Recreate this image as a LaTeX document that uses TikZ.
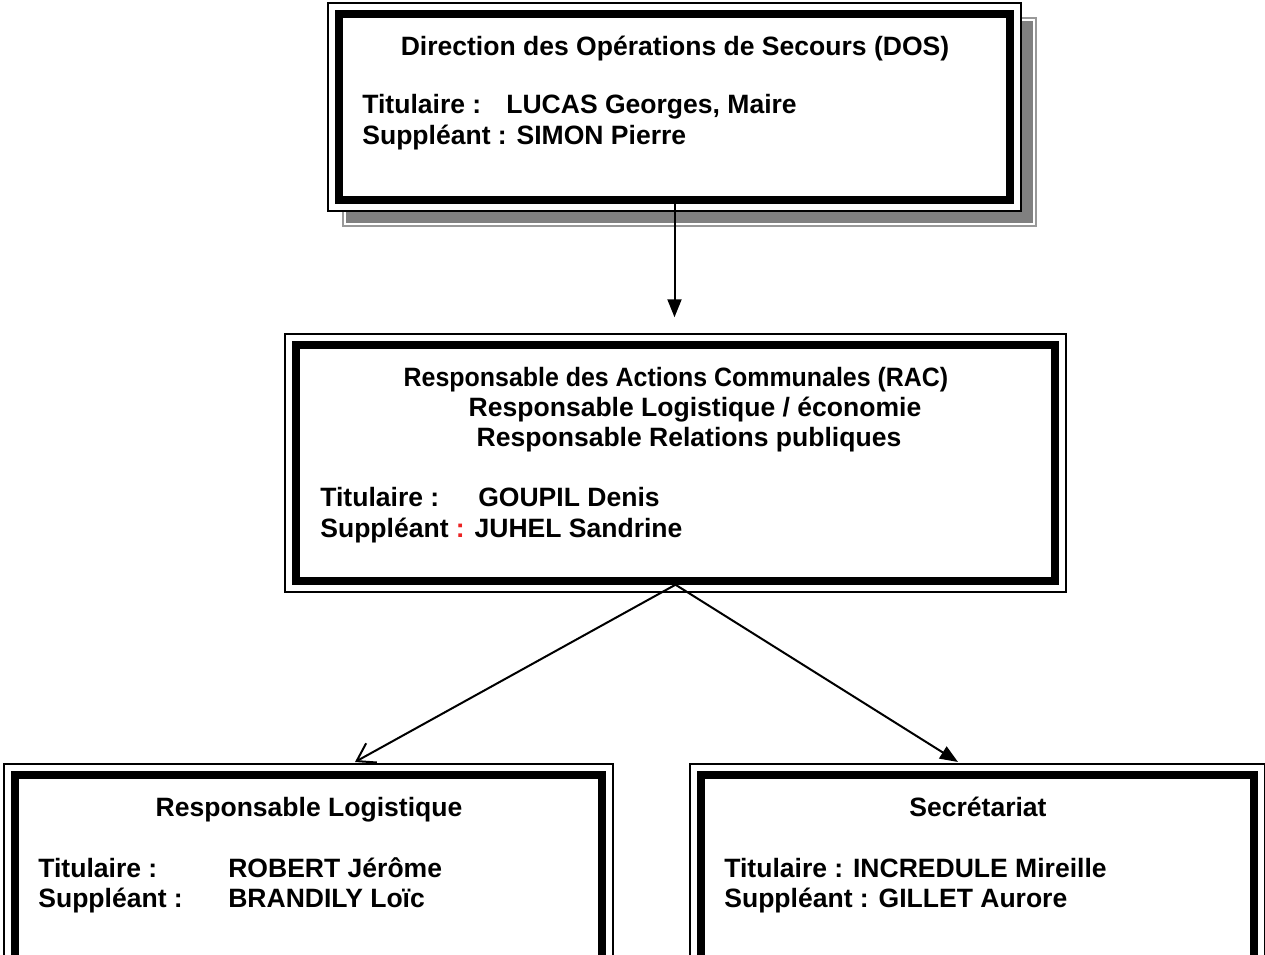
\documentclass[tikz,border=0pt]{standalone}
\usepackage{fontspec}
\setmainfont{Liberation Sans}
\usetikzlibrary{arrows.meta, positioning, calc, backgrounds}
\definecolor{rouge}{RGB}{235,35,35}

\begin{document}
\begin{tikzpicture}[
  x=0.02cm, y=-0.02cm,
  font=\bfseries\fontsize{15.1}{18}\selectfont,
  cadre/.style={
    draw=black,
    line width=0.15cm,
    fill=white,
    inner sep=0pt
  },
  filet/.style={
    draw=black,
    line width=0.035cm,
    fill=white
  },
  titre/.style={anchor=base, inner sep=0pt},
  ligne/.style={anchor=base west, inner sep=0pt},
  fleche/.style={
    -{Triangle[length=0.36cm, width=0.28cm]},
    line width=0.04cm
  },
  fleche ouverte/.style={
    -{Straight Barb[length=0.34cm, width=0.44cm]},
    line width=0.04cm
  }
]
  \useasboundingbox (0,0) rectangle (1265,955);

  % Cadres
  \node[cadre, minimum width=13.42cm, minimum height=3.72cm] (dos) at (674.5,107) {};
  \node[cadre, minimum width=15.18cm, minimum height=4.72cm] (rac) at (675.5,463) {};
  \node[cadre, minimum width=11.74cm, minimum height=4.2cm] (logi) at (308.5,880) {};
  \node[cadre, minimum width=11.06cm, minimum height=4.2cm] (secr) at (977.5,880) {};

  % Ombre du premier cadre et filets extérieurs
  \begin{scope}[on background layer]
    \draw[black!40, line width=0.035cm, fill=white] ([shift={(8,8)}]dos.north west) rectangle ([shift={(22,22)}]dos.south east);
    \fill[black!50] ([shift={(11,11)}]dos.north west) rectangle ([shift={(19,19)}]dos.south east);
    \foreach \n in {dos, rac, logi, secr} {
      \draw[filet] ([shift={(-7,-7)}]\n.north west) rectangle ([shift={(7,7)}]\n.south east);
    }
  \end{scope}

  % Textes du DOS
  \node[titre] (dos-titre) at (675,56) {Direction des Opérations de Secours (DOS)};
  \node[ligne] (dos-tit) at (362,114) {\makebox[2.88cm][l]{Titulaire :}LUCAS Georges, Maire};
  \node[ligne] (dos-sup) at (362,145) {Suppléant : SIMON Pierre};

  % Textes du RAC
  \node[titre, xscale=0.94, transform shape] (rac-t1) at (676,387) {Responsable des Actions Communales (RAC)};
  \node[titre] (rac-t2) at (695,417) {Responsable Logistique / économie};
  \node[titre] (rac-t3) at (689,447) {Responsable Relations publiques};
  \node[ligne] (rac-tit) at (320,507) {\makebox[3.16cm][l]{Titulaire :}GOUPIL Denis};
  \node[ligne] (rac-sup) at (320,538) {Suppléant {\color{rouge}:} JUHEL Sandrine};

  % Textes logistique
  \node[titre] (logi-titre) at (309,817) {Responsable Logistique};
  \node[ligne] (logi-tit) at (38,878) {\makebox[3.8cm][l]{Titulaire :}ROBERT Jérôme};
  \node[ligne] (logi-sup) at (38,908) {\makebox[3.8cm][l]{Suppléant :}BRANDILY Loïc};

  % Textes secrétariat
  \node[titre] (secr-titre) at (978,817) {Secrétariat};
  \node[ligne] (secr-tit) at (724,878) {Titulaire : INCREDULE Mireille};
  \node[ligne] (secr-sup) at (724,908) {Suppléant : GILLET Aurore};

  % Flèches
  \coordinate (bout-g) at (355,762);
  \coordinate (bout-d) at (958,762);
  \draw[fleche, shorten >=0.48cm] (dos.south) -- (dos.south |- rac.north);
  \draw[fleche ouverte] (rac.south) -- (bout-g);
  \draw[fleche] (rac.south) -- (bout-d);
\end{tikzpicture}
\end{document}
